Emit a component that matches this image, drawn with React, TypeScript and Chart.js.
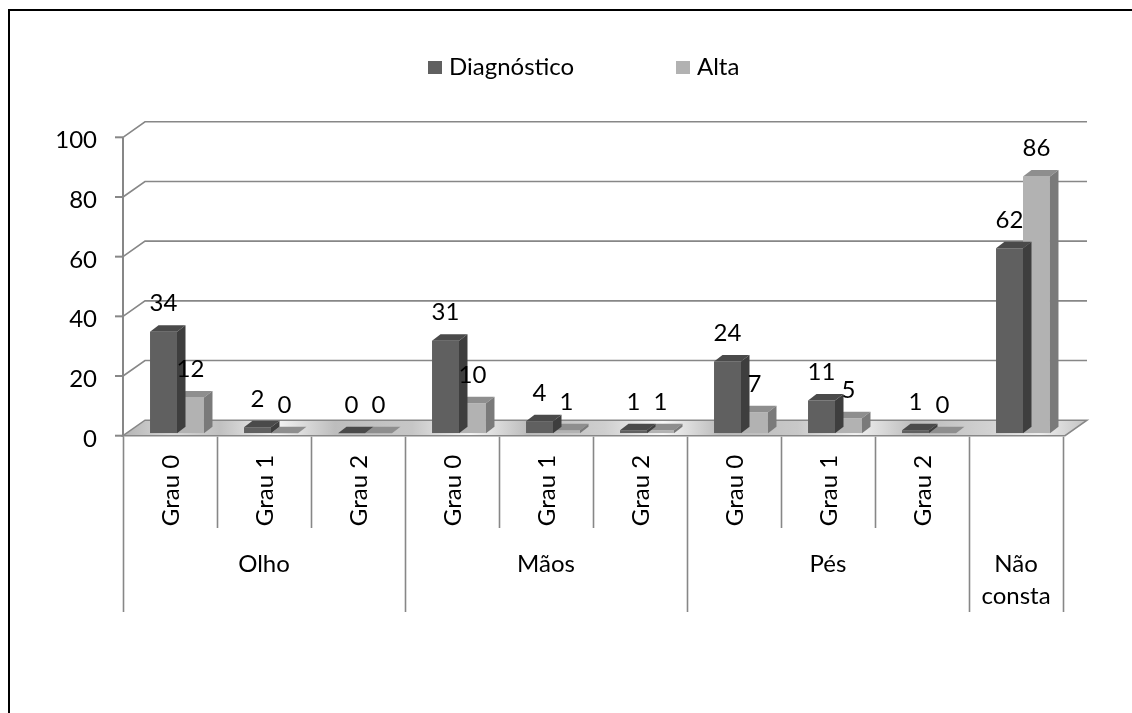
import React, { useEffect, useRef } from "react";
import { Chart, registerables } from "chart.js";

Chart.register(...registerables);

// Chart data
const categoryLabels = ["Grau 0", "Grau 1", "Grau 2", "Grau 0", "Grau 1", "Grau 2", "Grau 0", "Grau 1", "Grau 2", ""];
const groupLabels = [["Olho"], ["Mãos"], ["Pés"], ["Não", "consta"]];
const groupSpans = [3, 3, 3, 1];
const seriesNames = ["Diagnóstico", "Alta"];
const diagnostico = [34, 2, 0, 31, 4, 1, 24, 11, 1, 62];
const alta = [12, 0, 0, 10, 1, 1, 7, 5, 0, 86];
const yTicks = [0, 20, 40, 60, 80, 100];

// Styling
const FONT_FAMILY = "Lato, 'Liberation Sans', sans-serif";
const FONT_SIZE = 24;
const FRONT = ["#606060", "#b2b2b2"];
const TOP = ["#4a4a4a", "#8e8e8e"];
const SIDE = ["#3e3e3e", "#7a7a7a"];
const GRID = "#878787";

// 3D projection helpers
const WALL_DX = 22;
const WALL_DY = 15.5;
const BAR_DX = 8.5;
const BAR_DY = 6.5;
const SHIFT_X = 7; // bars stand a little behind the front plane
const SHIFT_Y = 2.5;

const scenePlugin = {
  id: "scene3d",
  beforeDatasetsDraw(chart: any) {
    const { ctx, chartArea, scales } = chart;
    const yS = scales.y;
    const n = categoryLabels.length;
    const cw = (chartArea.right - chartArea.left) / n;
    const left = chartArea.left - SHIFT_X;
    const right = left + n * cw + 2;
    const gy = (v: number) => yS.getPixelForValue(v) + SHIFT_Y;

    ctx.save();

    // outer frame
    ctx.strokeStyle = "#000";
    ctx.lineWidth = 2;
    ctx.strokeRect(9, 10, chart.width + 40, chart.height + 40);

    // floor
    const y0 = gy(0);
    const grad = ctx.createLinearGradient(left, 0, right + WALL_DX, 0);
    const stops: [number, string][] = [
      [0, "#b4b4b4"], [0.05, "#d8d8d8"], [0.1, "#c0c0c0"], [0.16, "#f4f4f4"], [0.22, "#bdbdbd"],
      [0.3, "#c6c6c6"], [0.36, "#f6f6f6"], [0.42, "#bcbcbc"], [0.5, "#cfcfcf"], [0.56, "#f8f8f8"],
      [0.62, "#bababa"], [0.7, "#c8c8c8"], [0.76, "#f2f2f2"], [0.82, "#bcbcbc"], [0.9, "#d2d2d2"],
      [0.95, "#f0f0f0"], [1, "#c2c2c2"],
    ];
    stops.forEach(([o, c]) => grad.addColorStop(o, c));
    ctx.beginPath();
    ctx.moveTo(left, y0);
    ctx.lineTo(left + WALL_DX, y0 - WALL_DY);
    ctx.lineTo(right + WALL_DX, y0 - WALL_DY);
    ctx.lineTo(right, y0);
    ctx.closePath();
    ctx.fillStyle = grad;
    ctx.fill();
    ctx.strokeStyle = GRID;
    ctx.lineWidth = 1.5;
    ctx.stroke();

    // gridlines on the back wall
    ctx.strokeStyle = GRID;
    ctx.lineWidth = 1.6;
    yTicks.forEach((v) => {
      if (v === 0) return;
      const yy = gy(v);
      ctx.beginPath();
      ctx.moveTo(left, yy);
      ctx.lineTo(left + WALL_DX, yy - WALL_DY);
      ctx.lineTo(right + WALL_DX, yy - WALL_DY);
      ctx.stroke();
    });

    // value axis
    ctx.lineWidth = 2;
    ctx.beginPath();
    ctx.moveTo(left, gy(yTicks[yTicks.length - 1]));
    ctx.lineTo(left, gy(0) + 1);
    ctx.stroke();
    ctx.font = `${FONT_SIZE}px ${FONT_FAMILY}`;
    ctx.fillStyle = "#000";
    ctx.textAlign = "right";
    ctx.textBaseline = "alphabetic";
    yTicks.forEach((v) => {
      const yy = gy(v);
      ctx.beginPath();
      ctx.moveTo(left - 8, yy);
      ctx.lineTo(left, yy);
      ctx.stroke();
      ctx.fillText(String(v), left - 26, yy + 11);
    });

    // category axis: dividers and labels
    const axisTop = y0 + 1;
    ctx.lineWidth = 1.6;
    let gi = 0;
    const groupStarts: number[] = [0];
    groupSpans.forEach((s) => groupStarts.push(groupStarts[groupStarts.length - 1] + s));
    for (let i = 0; i <= n; i++) {
      const xx = Math.round(left + i * cw) + 0.5;
      const isGroup = groupStarts.includes(i);
      ctx.beginPath();
      ctx.moveTo(xx, axisTop);
      ctx.lineTo(xx, isGroup ? 612 : 528);
      ctx.stroke();
    }
    ctx.textAlign = "center";
    ctx.textBaseline = "middle";
    categoryLabels.forEach((lab, i) => {
      if (!lab) return;
      const cx = left + (i + 0.5) * cw + 1;
      ctx.save();
      ctx.translate(cx, 490.5);
      ctx.rotate(-Math.PI / 2);
      ctx.fillText(lab, 0, 0);
      ctx.restore();
    });
    ctx.textBaseline = "alphabetic";
    groupLabels.forEach((lines, g) => {
      const a = groupStarts[g];
      const b = groupStarts[g + 1];
      const cx = left + ((a + b) / 2) * cw;
      lines.forEach((t, k) => ctx.fillText(t, cx, 572 + k * 32));
      gi++;
    });

    ctx.restore();
  },
  afterDatasetDraw(chart: any, args: any) {
    const { ctx } = chart;
    const di = args.index;
    const meta = chart.getDatasetMeta(di);
    ctx.save();
    meta.data.forEach((bar: any) => {
      const { x, y, width } = bar.getProps(["x", "y", "width"], true);
      const l = x - width / 2;
      const r = x + width / 2;
      const base = chart.scales.y.getPixelForValue(0);
      // top face
      ctx.beginPath();
      ctx.moveTo(l, y);
      ctx.lineTo(r, y);
      ctx.lineTo(r + BAR_DX, y - BAR_DY);
      ctx.lineTo(l + BAR_DX, y - BAR_DY);
      ctx.closePath();
      ctx.fillStyle = TOP[di];
      ctx.fill();
      // side face
      ctx.beginPath();
      ctx.moveTo(r, y);
      ctx.lineTo(r + BAR_DX, y - BAR_DY);
      ctx.lineTo(r + BAR_DX, base - BAR_DY);
      ctx.lineTo(r, base);
      ctx.closePath();
      ctx.fillStyle = SIDE[di];
      ctx.fill();
    });
    ctx.restore();
  },
  afterDatasetsDraw(chart: any) {
    const { ctx } = chart;
    ctx.save();
    ctx.font = `${FONT_SIZE}px ${FONT_FAMILY}`;
    ctx.fillStyle = "#000";
    ctx.textAlign = "center";
    ctx.textBaseline = "alphabetic";
    chart.data.datasets.forEach((ds: any, di: number) => {
      const meta = chart.getDatasetMeta(di);
      meta.data.forEach((bar: any, i: number) => {
        const { x, y } = bar.getProps(["x", "y"], true);
        ctx.fillText(String(ds.data[i]), x, y - 20.5);
      });
    });

    // legend
    const legendX = [428, 676];
    seriesNames.forEach((name, i) => {
      ctx.fillStyle = FRONT[i];
      ctx.fillRect(legendX[i], 61, 14, 13);
      ctx.fillStyle = "#000";
      ctx.textAlign = "left";
      ctx.fillText(name, legendX[i] + 21, 75);
    });
    ctx.restore();
  },
};

export default function App() {
  const canvasRef = useRef<HTMLCanvasElement | null>(null);

  useEffect(() => {
    const canvas = canvasRef.current;
    if (!canvas) return;
    const chart = new Chart(canvas, {
      type: "bar",
      data: {
        labels: categoryLabels,
        datasets: [
          { label: seriesNames[0], data: diagnostico, backgroundColor: FRONT[0], borderWidth: 0, categoryPercentage: 0.574, barPercentage: 1 },
          { label: seriesNames[1], data: alta, backgroundColor: FRONT[1], borderWidth: 0, categoryPercentage: 0.574, barPercentage: 1 },
        ],
      },
      options: {
        animation: false,
        responsive: false,
        maintainAspectRatio: false,
        devicePixelRatio: 1,
        layout: { padding: { left: 130, right: 62, top: 134.8, bottom: 279.8 } },
        scales: {
          x: { display: false },
          y: { display: false, min: 0, max: 100 },
        },
        plugins: { legend: { display: false }, tooltip: { enabled: false } },
      },
      plugins: [scenePlugin],
    });
    return () => chart.destroy();
  }, []);

  return (
    <div style={{ position: "fixed", left: 0, top: 0, width: 1132, height: 713, background: "#fff" }}>
      <canvas ref={canvasRef} width={1132} height={713} style={{ display: "block" }} />
    </div>
  );
}
